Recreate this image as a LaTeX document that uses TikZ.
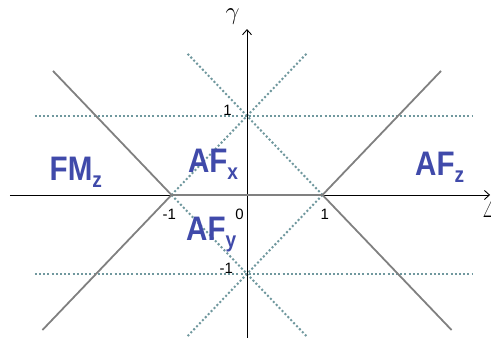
\documentclass[tikz,border=0pt]{standalone}
\usepackage{fontspec}
\setmainfont{Liberation Sans}
\usepackage{tikz}
\usetikzlibrary{arrows.meta, positioning}
\definecolor{phaseblue}{RGB}{64,74,170}
\definecolor{bordergray}{RGB}{128,128,128}
\definecolor{guideteal}{RGB}{112,152,158}
\newcommand{\phasename}[2]{#1\raisebox{-7pt}{\fontsize{22}{22}\selectfont #2}}

\begin{document}
\begin{tikzpicture}[
    x=75.5pt, y=79pt,
    every node/.style={font=\fontsize{15}{15}\selectfont, inner sep=0pt},
    axis/.style={-{Straight Barb[length=5pt, width=9pt]}, line width=0.9pt},
    boundary/.style={draw=bordergray, line width=1.8pt},
    guide/.style={draw=guideteal, line width=2pt, dash pattern=on 2pt off 2.2pt},
    phase/.style={anchor=base west, text=phaseblue, font=\fontsize{34}{34}\selectfont\bfseries, xscale=0.87, transform shape},
    tick/.style={anchor=base east}
]
\useasboundingbox (-3.272,-1.911) rectangle (3.232,2.468);

% critical points
\coordinate (lpt) at (-1,0);
\coordinate (rpt) at (1,0);
\coordinate (tpt) at (0,1);
\coordinate (bpt) at (0,-1);

% guide lines
\draw[guide] (-2.81,1) -- (2.99,1);
\draw[guide] (-2.81,-1) -- (2.99,-1);
\draw[guide] (lpt) -- (0.8,1.8);
\draw[guide] (rpt) -- (-0.8,1.8);
\draw[guide] (lpt) -- (0.8,-1.8);
\draw[guide] (rpt) -- (-0.8,-1.8);

% axes
\coordinate (xs) at (-3.14,0);
\coordinate (xe) at (3.22,0);
\coordinate (ys) at (0,-1.81);
\coordinate (ye) at (0,2.10);
\draw[axis] (xs) -- (xe);
\draw[axis] (ys) -- (ye);
\node[anchor=base, font=\fontsize{26}{26}\selectfont] (gam) at (-0.19,2.225) {$\gamma$};
\node[anchor=base west, font=\fontsize{24}{24}\selectfont] (del) at (3.12,-0.29) {$\Delta$};

% phase boundaries
\draw[boundary] (lpt) -- ++(-1.57,1.57);
\draw[boundary] (lpt) -- ++(-1.71,-1.71);
\draw[boundary] (rpt) -- ++(1.57,1.57);
\draw[boundary] (rpt) -- ++(1.71,-1.71);
\draw[boundary, line width=2.2pt] (lpt) -- (rpt);

% ticks
\node[tick] (t1) at (-0.2,1) {1};
\node[tick] (tm1) at (-0.185,-1) {-1};
\node[tick] (lm1) at (-0.94,-0.31) {-1};
\node[tick] (zero) at (-0.04,-0.31) {0};
\node[anchor=base] (r1) at (1.03,-0.31) {1};

% phases
\node[phase] (fmz) at (-2.616,0.177) {\phasename{FM}{z}};
\node[phase] (afx) at (-0.783,0.282) {\phasename{AF}{x}};
\node[phase] (afy) at (-0.808,-0.582) {\phasename{AF}{y}};
\node[phase] (afz) at (2.225,0.24) {\phasename{AF}{z}};

\end{tikzpicture}
\end{document}
